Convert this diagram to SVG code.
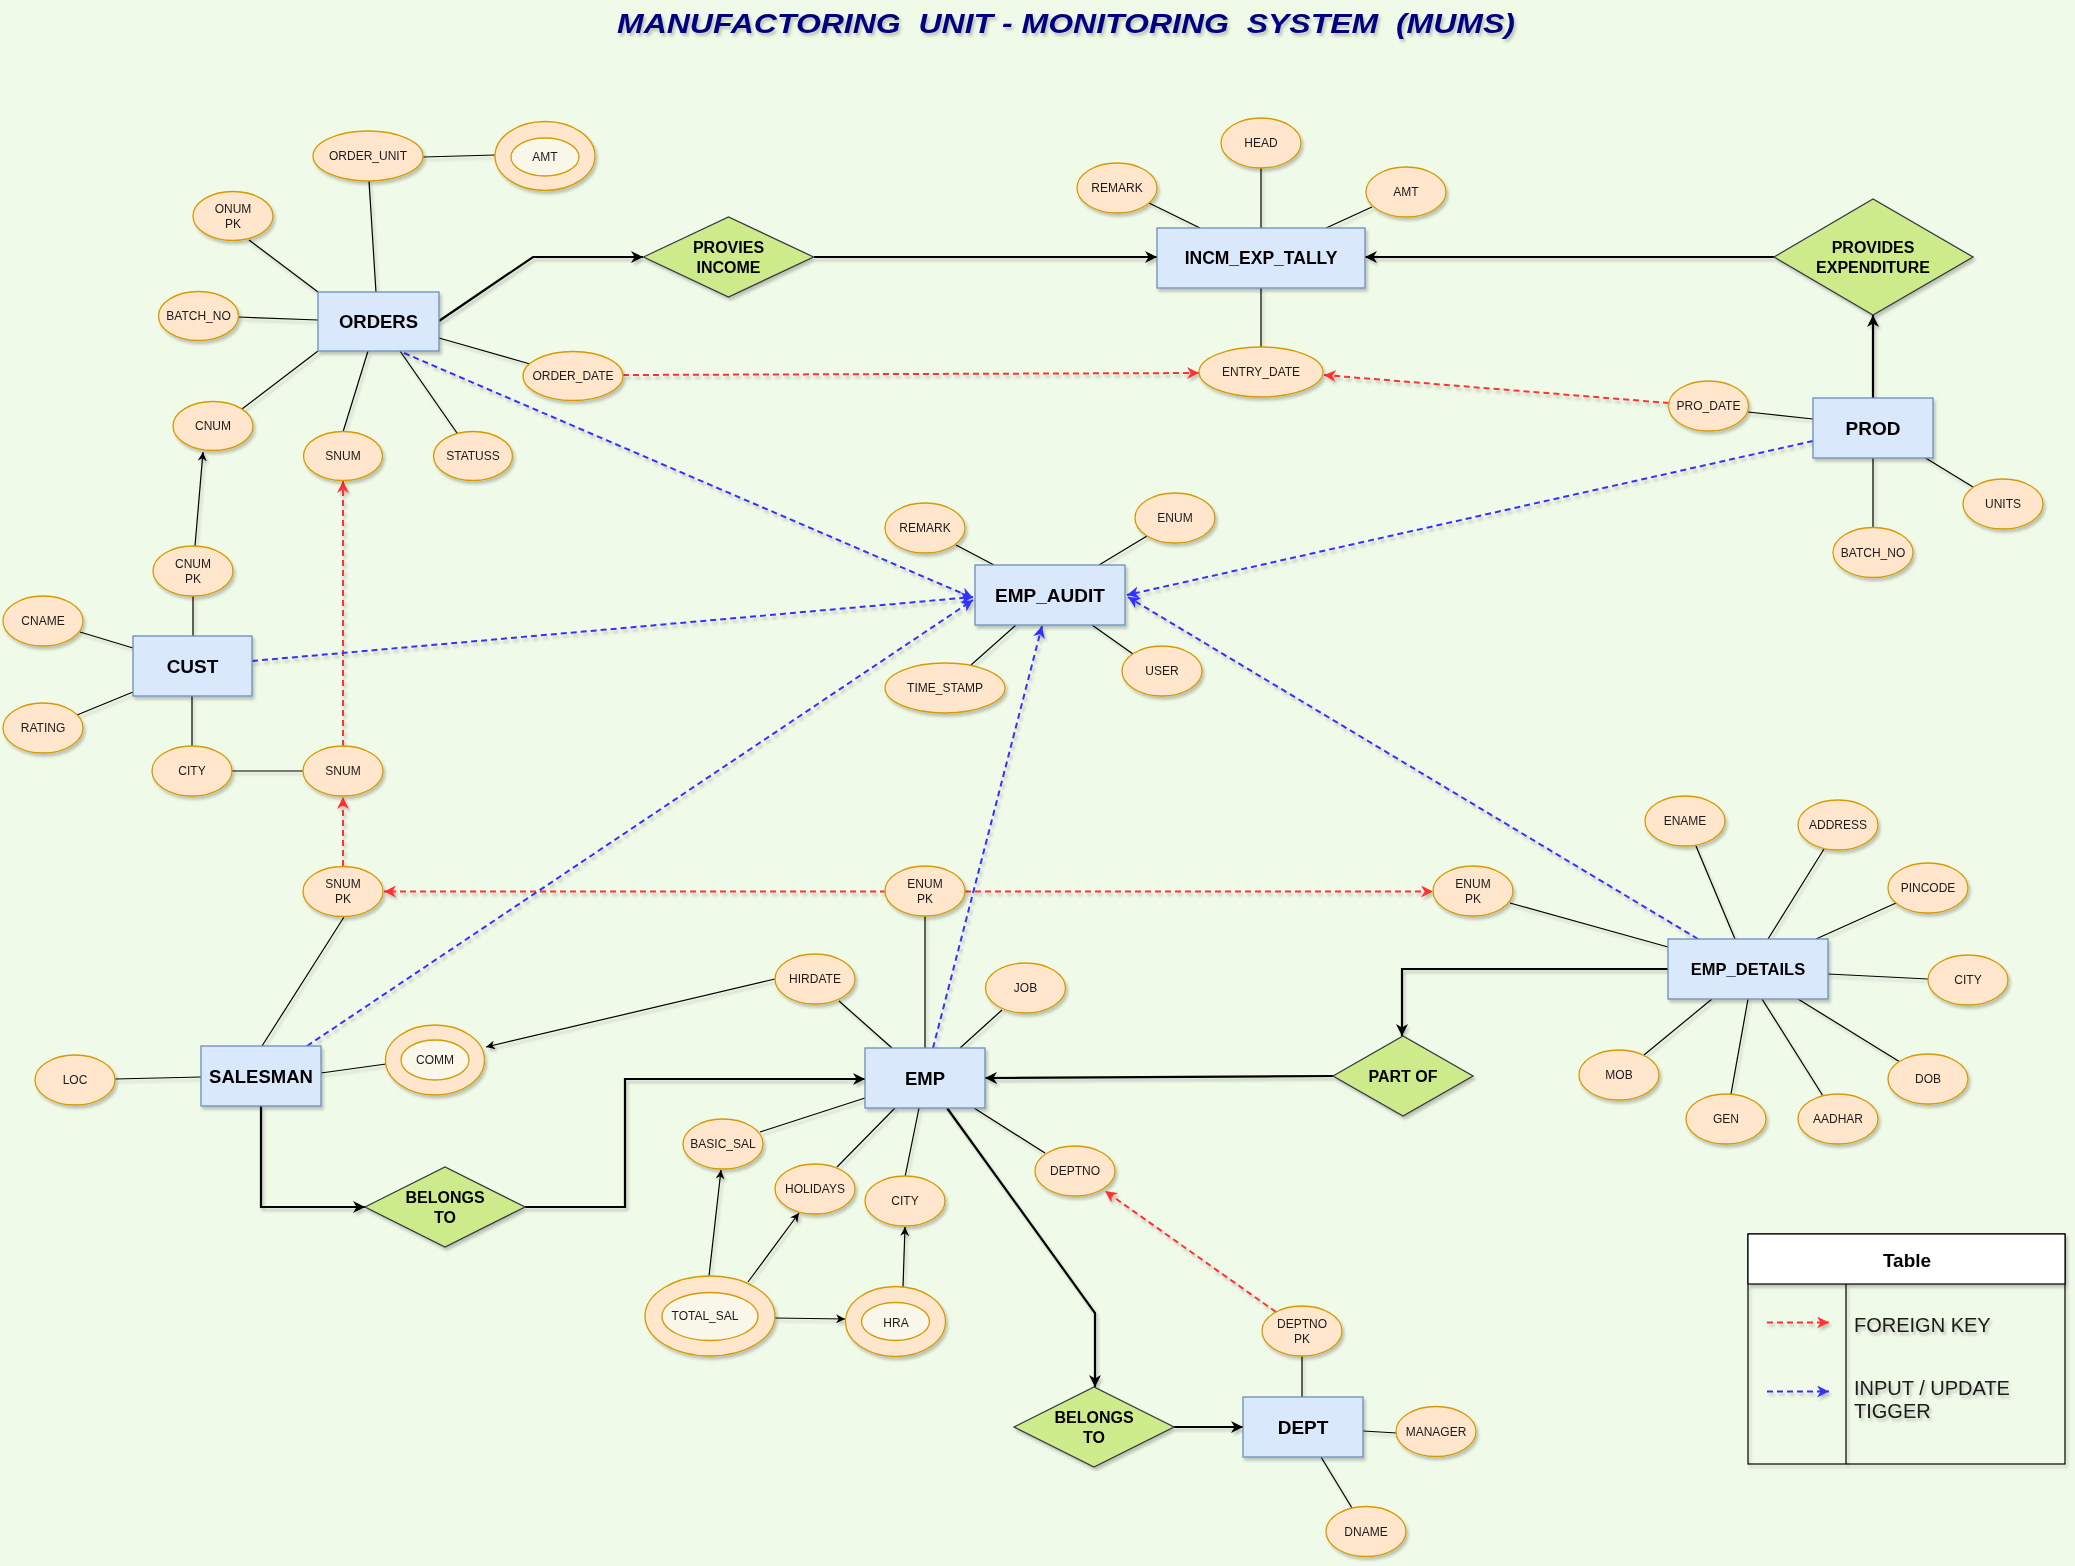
<svg xmlns="http://www.w3.org/2000/svg" width="2075" height="1566" viewBox="0 0 2075 1566">
<defs>
<style>
.bg{fill:#f0fae8}
.ent rect{fill:#dae8fc;stroke:#6c8ebf;stroke-width:1.3}
.ent text{font-family:"Liberation Sans",Arial,sans-serif;font-weight:bold;fill:#000;text-anchor:middle;dominant-baseline:central}
.att ellipse{fill:#ffe6cc;stroke:#d79b00;stroke-width:1.3}
.att ellipse.in{fill:#f9f6ea}
.att text{font-family:"Liberation Sans",Arial,sans-serif;font-size:12px;fill:#1a1a1a;text-anchor:middle;dominant-baseline:central}
.rel polygon{fill:#cdeb8b;stroke:#36393d;stroke-width:1.3}
.rel text{font-family:"Liberation Sans",Arial,sans-serif;font-size:16px;font-weight:bold;fill:#000;text-anchor:middle;dominant-baseline:central}
.a{stroke:#000;stroke-width:1.2;fill:none}
.t{stroke:#000;stroke-width:2.2;fill:none}
.fk{stroke:#ff3333;stroke-width:2;stroke-dasharray:6 4;fill:none}
.tr{stroke:#3333ff;stroke-width:2;stroke-dasharray:6 4;fill:none}
.lg{font-family:"Liberation Sans",Arial,sans-serif;font-size:20px;fill:#1a1a1a}
</style>
<filter id="sh" x="-10%" y="-10%" width="130%" height="140%">
<feDropShadow dx="2" dy="3" stdDeviation="1.5" flood-color="#000" flood-opacity="0.22"/>
</filter>
<marker id="mT" viewBox="0 0 10 10" refX="10" refY="5" markerWidth="12" markerHeight="12" markerUnits="userSpaceOnUse" orient="auto"><path d="M0,0 L10,5 L0,10 L3,5 Z" fill="#000"/></marker>
<marker id="mA" viewBox="0 0 10 10" refX="10" refY="5" markerWidth="9" markerHeight="9" markerUnits="userSpaceOnUse" orient="auto"><path d="M0,0 L10,5 L0,10 L3,5 Z" fill="#000"/></marker>
<marker id="mR" viewBox="0 0 10 10" refX="10" refY="5" markerWidth="12" markerHeight="12" markerUnits="userSpaceOnUse" orient="auto"><path d="M0,0 L10,5 L0,10 L3,5 Z" fill="#ff3333"/></marker>
<marker id="mB" viewBox="0 0 10 10" refX="10" refY="5" markerWidth="12" markerHeight="12" markerUnits="userSpaceOnUse" orient="auto"><path d="M0,0 L10,5 L0,10 L3,5 Z" fill="#3333ff"/></marker>
</defs>
<rect class="bg" x="0" y="0" width="2075" height="1566"/>
<text x="1066" y="33" text-anchor="middle" font-family="Liberation Sans,Arial,sans-serif" font-size="27" font-weight="bold" font-style="italic" fill="#000080" xml:space="preserve" textLength="898" lengthAdjust="spacingAndGlyphs" filter="url(#sh)">MANUFACTORING  UNIT - MONITORING  SYSTEM  (MUMS)</text>

<g id="connectors" filter="url(#sh)">
<!-- ORDERS attributes -->
<line class="a" x1="369" y1="181" x2="376" y2="292"/>
<line class="a" x1="423" y1="157" x2="495" y2="155"/>
<line class="a" x1="249" y1="240" x2="318" y2="292"/>
<line class="a" x1="238" y1="317" x2="318" y2="320"/>
<line class="a" x1="242" y1="409" x2="318" y2="351"/>
<line class="a" x1="343" y1="432" x2="368" y2="351"/>
<line class="a" x1="457" y1="433" x2="400" y2="351"/>
<line class="a" x1="530" y1="364" x2="439" y2="338"/>
<!-- INCM attributes -->
<line class="a" x1="1261" y1="168" x2="1261" y2="228"/>
<line class="a" x1="1149" y1="203" x2="1200" y2="228"/>
<line class="a" x1="1372" y1="207" x2="1326" y2="228"/>
<line class="a" x1="1261" y1="288" x2="1261" y2="347"/>
<!-- PROD attributes -->
<line class="a" x1="1748" y1="412" x2="1813" y2="419"/>
<line class="a" x1="1973" y1="487" x2="1924" y2="457"/>
<line class="a" x1="1873" y1="458" x2="1873" y2="528"/>
<!-- EMP_AUDIT attributes -->
<line class="a" x1="956" y1="545" x2="994" y2="565"/>
<line class="a" x1="1147" y1="536" x2="1099" y2="565"/>
<line class="a" x1="971" y1="665" x2="1016" y2="625"/>
<line class="a" x1="1133" y1="654" x2="1092" y2="625"/>
<!-- CUST attributes -->
<line class="a" x1="193" y1="596" x2="193" y2="636"/>
<line class="a" x1="80" y1="632" x2="133" y2="648"/>
<line class="a" x1="77" y1="715" x2="133" y2="692"/>
<line class="a" x1="192" y1="696" x2="192" y2="746"/>
<line class="a" x1="232" y1="771" x2="304" y2="771"/>
<line class="a" x1="195" y1="546" x2="203" y2="452" marker-end="url(#mA)"/>
<!-- SALESMAN attributes -->
<line class="a" x1="344" y1="917" x2="262" y2="1046"/>
<line class="a" x1="115" y1="1079" x2="201" y2="1077"/>
<line class="a" x1="321" y1="1073" x2="386" y2="1064"/>
<line class="a" x1="775" y1="979" x2="486" y2="1047" marker-end="url(#mA)"/>
<!-- EMP attributes -->
<line class="a" x1="925" y1="916" x2="925" y2="1048"/>
<line class="a" x1="839" y1="1001" x2="892" y2="1048"/>
<line class="a" x1="1002" y1="1010" x2="960" y2="1048"/>
<line class="a" x1="760" y1="1132" x2="865" y2="1098"/>
<line class="a" x1="837" y1="1167" x2="895" y2="1108"/>
<line class="a" x1="905" y1="1177" x2="919" y2="1108"/>
<line class="a" x1="1045" y1="1153" x2="974" y2="1108"/>
<line class="a" x1="709" y1="1276" x2="721" y2="1170" marker-end="url(#mA)"/>
<line class="a" x1="748" y1="1282" x2="799" y2="1213" marker-end="url(#mA)"/>
<line class="a" x1="775" y1="1318" x2="845" y2="1319" marker-end="url(#mA)"/>
<line class="a" x1="903" y1="1287" x2="905" y2="1227" marker-end="url(#mA)"/>
<!-- DEPT attributes -->
<line class="a" x1="1302" y1="1356" x2="1302" y2="1397"/>
<line class="a" x1="1363" y1="1431" x2="1397" y2="1433"/>
<line class="a" x1="1321" y1="1457" x2="1352" y2="1508"/>
<!-- EMP_DETAILS attributes -->
<line class="a" x1="1510" y1="903" x2="1668" y2="947"/>
<line class="a" x1="1696" y1="846" x2="1735" y2="939"/>
<line class="a" x1="1824" y1="849" x2="1768" y2="939"/>
<line class="a" x1="1896" y1="903" x2="1816" y2="939"/>
<line class="a" x1="1928" y1="979" x2="1828" y2="974"/>
<line class="a" x1="1900" y1="1062" x2="1798" y2="999"/>
<line class="a" x1="1823" y1="1096" x2="1762" y2="999"/>
<line class="a" x1="1731" y1="1094" x2="1748" y2="999"/>
<line class="a" x1="1644" y1="1055" x2="1712" y2="999"/>
<!-- relationships -->
<path class="t" d="M439,321 L533,257 L643,257" marker-end="url(#mT)"/>
<path class="t" d="M814,257 L1157,257" marker-end="url(#mT)"/>
<path class="t" d="M1774,257 L1365,257" marker-end="url(#mT)"/>
<path class="t" d="M1873,398 L1873,315" marker-end="url(#mT)"/>
<path class="t" d="M261,1106 L261,1207 L365,1207" marker-end="url(#mT)"/>
<path class="t" d="M525,1207 L625,1207 L625,1079 L865,1079" marker-end="url(#mT)"/>
<path class="t" d="M1333,1076 L985,1078" marker-end="url(#mT)"/>
<path class="t" d="M1668,969 L1402,969 L1402,1036" marker-end="url(#mT)"/>
<path class="t" d="M947,1108 L1095,1313 L1095,1387" marker-end="url(#mT)"/>
<path class="t" d="M1174,1427 L1243,1427" marker-end="url(#mT)"/>
<!-- foreign keys -->
<line class="fk" x1="623" y1="375" x2="1199" y2="373" marker-end="url(#mR)"/>
<line class="fk" x1="1669" y1="403" x2="1324" y2="375" marker-end="url(#mR)"/>
<line class="fk" x1="343" y1="746" x2="343" y2="481" marker-end="url(#mR)"/>
<line class="fk" x1="343" y1="866" x2="343" y2="797" marker-end="url(#mR)"/>
<line class="fk" x1="886" y1="891.5" x2="384" y2="891.5" marker-end="url(#mR)"/>
<line class="fk" x1="965" y1="891.5" x2="1433" y2="891.5" marker-end="url(#mR)"/>
<line class="fk" x1="1276" y1="1312" x2="1105" y2="1191" marker-end="url(#mR)"/>
<!-- triggers -->
<line class="tr" x1="404" y1="353" x2="973" y2="598" marker-end="url(#mB)"/>
<line class="tr" x1="252" y1="661" x2="973" y2="597" marker-end="url(#mB)"/>
<line class="tr" x1="307" y1="1046" x2="973" y2="600" marker-end="url(#mB)"/>
<line class="tr" x1="933" y1="1048" x2="1042" y2="626" marker-end="url(#mB)"/>
<line class="tr" x1="1813" y1="441" x2="1127" y2="595" marker-end="url(#mB)"/>
<line class="tr" x1="1698" y1="939" x2="1128" y2="597" marker-end="url(#mB)"/>
</g>

<g filter="url(#sh)">
<!-- entities -->
<g id="orders" class="ent"><rect x="318" y="292" width="121" height="59"/><text x="378.5" y="321.5" font-size="18.5">ORDERS</text></g>
<g id="incm_exp_tally" class="ent"><rect x="1157" y="228" width="208" height="60"/><text x="1261" y="258" font-size="17.5">INCM_EXP_TALLY</text></g>
<g id="prod" class="ent"><rect x="1813" y="398" width="120" height="60"/><text x="1873" y="428" font-size="19">PROD</text></g>
<g id="emp_audit" class="ent"><rect x="975" y="565" width="150" height="60"/><text x="1050" y="595" font-size="19">EMP_AUDIT</text></g>
<g id="cust" class="ent"><rect x="133" y="636" width="119" height="60"/><text x="192.5" y="666" font-size="19">CUST</text></g>
<g id="salesman" class="ent"><rect x="201" y="1046" width="120" height="60"/><text x="261" y="1076" font-size="18.5">SALESMAN</text></g>
<g id="emp" class="ent"><rect x="865" y="1048" width="120" height="60"/><text x="925" y="1078" font-size="18.5">EMP</text></g>
<g id="emp_details" class="ent"><rect x="1668" y="939" width="160" height="60"/><text x="1748" y="969" font-size="16.5">EMP_DETAILS</text></g>
<g id="dept" class="ent"><rect x="1243" y="1397" width="120" height="60"/><text x="1303" y="1427" font-size="19">DEPT</text></g>

<!-- relationships -->
<g id="provies_income" class="rel"><polygon points="643.5,257 728.5,217 813.5,257 728.5,297"/><text x="728.5" y="247">PROVIES</text><text x="728.5" y="267">INCOME</text></g>
<g id="provides_expenditure" class="rel"><polygon points="1774,257 1873,199 1973,257 1873,315"/><text x="1873" y="247">PROVIDES</text><text x="1873" y="267">EXPENDITURE</text></g>
<g id="part_of" class="rel"><polygon points="1333,1076 1403,1036 1473,1076 1403,1116"/><text x="1403" y="1076">PART OF</text></g>
<g id="belongs_to_1" class="rel"><polygon points="365,1207 445,1167 525,1207 445,1247"/><text x="445" y="1197">BELONGS</text><text x="445" y="1217">TO</text></g>
<g id="belongs_to_2" class="rel"><polygon points="1014,1427 1094,1387 1174,1427 1094,1467"/><text x="1094" y="1417">BELONGS</text><text x="1094" y="1437">TO</text></g>

<!-- ORDERS attributes -->
<g id="order_unit" class="att"><ellipse cx="368" cy="156" rx="55" ry="25"/><text x="368" y="156">ORDER_UNIT</text></g>
<g id="amt_orders" class="att"><ellipse cx="545" cy="156" rx="50" ry="34.5"/><ellipse class="in" cx="545" cy="157" rx="34" ry="19"/><text x="545" y="157">AMT</text></g>
<g id="onum_pk" class="att"><ellipse cx="233" cy="216" rx="40" ry="24.5"/><text x="233" y="209">ONUM</text><text x="233" y="224">PK</text></g>
<g id="batch_no_orders" class="att"><ellipse cx="198.5" cy="316" rx="40" ry="24.5"/><text x="198.5" y="316">BATCH_NO</text></g>
<g id="cnum" class="att"><ellipse cx="213" cy="426" rx="40" ry="24.5"/><text x="213" y="426">CNUM</text></g>
<g id="snum_orders" class="att"><ellipse cx="343" cy="456" rx="39.5" ry="24.5"/><text x="343" y="456">SNUM</text></g>
<g id="statuss" class="att"><ellipse cx="473" cy="456" rx="39.5" ry="24.5"/><text x="473" y="456">STATUSS</text></g>
<g id="order_date" class="att"><ellipse cx="573" cy="376" rx="50" ry="24.5"/><text x="573" y="376">ORDER_DATE</text></g>

<!-- INCM attributes -->
<g id="head" class="att"><ellipse cx="1261" cy="143" rx="40" ry="25"/><text x="1261" y="143">HEAD</text></g>
<g id="remark_incm" class="att"><ellipse cx="1117" cy="188" rx="40" ry="25"/><text x="1117" y="188">REMARK</text></g>
<g id="amt_incm" class="att"><ellipse cx="1406" cy="192" rx="40" ry="25"/><text x="1406" y="192">AMT</text></g>
<g id="entry_date" class="att"><ellipse cx="1261" cy="372" rx="62" ry="25"/><text x="1261" y="372">ENTRY_DATE</text></g>

<!-- PROD attributes -->
<g id="pro_date" class="att"><ellipse cx="1708.5" cy="406" rx="40" ry="25"/><text x="1708.5" y="406">PRO_DATE</text></g>
<g id="units" class="att"><ellipse cx="2003" cy="504" rx="40" ry="25"/><text x="2003" y="504">UNITS</text></g>
<g id="batch_no_prod" class="att"><ellipse cx="1873" cy="552.5" rx="40" ry="25"/><text x="1873" y="552.5">BATCH_NO</text></g>

<!-- EMP_AUDIT attributes -->
<g id="remark_audit" class="att"><ellipse cx="925" cy="528" rx="40" ry="25"/><text x="925" y="528">REMARK</text></g>
<g id="enum_audit" class="att"><ellipse cx="1175" cy="518" rx="40" ry="25"/><text x="1175" y="518">ENUM</text></g>
<g id="time_stamp" class="att"><ellipse cx="945" cy="688" rx="60" ry="25"/><text x="945" y="688">TIME_STAMP</text></g>
<g id="user" class="att"><ellipse cx="1162" cy="671" rx="40" ry="25"/><text x="1162" y="671">USER</text></g>

<!-- CUST attributes -->
<g id="cnum_pk" class="att"><ellipse cx="193" cy="571" rx="40" ry="25"/><text x="193" y="564">CNUM</text><text x="193" y="579">PK</text></g>
<g id="cname" class="att"><ellipse cx="43" cy="621" rx="40" ry="25"/><text x="43" y="621">CNAME</text></g>
<g id="rating" class="att"><ellipse cx="43" cy="728" rx="40" ry="25"/><text x="43" y="728">RATING</text></g>
<g id="city_cust" class="att"><ellipse cx="192" cy="771" rx="40" ry="25"/><text x="192" y="771">CITY</text></g>
<g id="snum_cust" class="att"><ellipse cx="343" cy="771" rx="40" ry="25"/><text x="343" y="771">SNUM</text></g>

<!-- SALESMAN attributes -->
<g id="snum_pk" class="att"><ellipse cx="343" cy="891.5" rx="40" ry="25"/><text x="343" y="884">SNUM</text><text x="343" y="899">PK</text></g>
<g id="loc" class="att"><ellipse cx="75" cy="1080" rx="40" ry="25"/><text x="75" y="1080">LOC</text></g>
<g id="comm" class="att"><ellipse cx="435" cy="1060" rx="49.5" ry="35"/><ellipse class="in" cx="435" cy="1060" rx="34" ry="20"/><text x="435" y="1060">COMM</text></g>

<!-- EMP attributes -->
<g id="enum_pk_emp" class="att"><ellipse cx="925" cy="891" rx="40" ry="25"/><text x="925" y="884">ENUM</text><text x="925" y="899">PK</text></g>
<g id="hirdate" class="att"><ellipse cx="815" cy="979" rx="40" ry="25"/><text x="815" y="979">HIRDATE</text></g>
<g id="job" class="att"><ellipse cx="1025.5" cy="988" rx="40" ry="25"/><text x="1025.5" y="988">JOB</text></g>
<g id="basic_sal" class="att"><ellipse cx="723" cy="1144" rx="40" ry="25"/><text x="723" y="1144">BASIC_SAL</text></g>
<g id="holidays" class="att"><ellipse cx="815" cy="1189" rx="40" ry="25"/><text x="815" y="1189">HOLIDAYS</text></g>
<g id="city_emp" class="att"><ellipse cx="905" cy="1201" rx="40" ry="25"/><text x="905" y="1201">CITY</text></g>
<g id="deptno" class="att"><ellipse cx="1075" cy="1171" rx="40" ry="25"/><text x="1075" y="1171">DEPTNO</text></g>
<g id="total_sal" class="att"><ellipse cx="710" cy="1316" rx="65" ry="40"/><ellipse class="in" cx="710" cy="1316.5" rx="48" ry="24"/><text x="705" y="1316">TOTAL_SAL</text></g>
<g id="hra" class="att"><ellipse cx="895.5" cy="1321.5" rx="50" ry="35"/><ellipse class="in" cx="895.5" cy="1321.5" rx="34" ry="19"/><text x="896" y="1322.5">HRA</text></g>

<!-- DEPT attributes -->
<g id="deptno_pk" class="att"><ellipse cx="1302" cy="1331" rx="40" ry="25"/><text x="1302" y="1324">DEPTNO</text><text x="1302" y="1339">PK</text></g>
<g id="manager" class="att"><ellipse cx="1436" cy="1431.5" rx="40" ry="25"/><text x="1436" y="1431.5">MANAGER</text></g>
<g id="dname" class="att"><ellipse cx="1366" cy="1531.5" rx="40" ry="25"/><text x="1366" y="1531.5">DNAME</text></g>

<!-- EMP_DETAILS attributes -->
<g id="enum_pk_details" class="att"><ellipse cx="1473" cy="891" rx="40" ry="25"/><text x="1473" y="884">ENUM</text><text x="1473" y="899">PK</text></g>
<g id="ename" class="att"><ellipse cx="1685" cy="821" rx="40" ry="25"/><text x="1685" y="821">ENAME</text></g>
<g id="address" class="att"><ellipse cx="1838" cy="825" rx="40" ry="25"/><text x="1838" y="825">ADDRESS</text></g>
<g id="pincode" class="att"><ellipse cx="1928" cy="888" rx="40" ry="25"/><text x="1928" y="888">PINCODE</text></g>
<g id="city_details" class="att"><ellipse cx="1968" cy="980" rx="40" ry="25"/><text x="1968" y="980">CITY</text></g>
<g id="dob" class="att"><ellipse cx="1928" cy="1079" rx="40" ry="25"/><text x="1928" y="1079">DOB</text></g>
<g id="aadhar" class="att"><ellipse cx="1838" cy="1119" rx="40" ry="25"/><text x="1838" y="1119">AADHAR</text></g>
<g id="gen" class="att"><ellipse cx="1726" cy="1119" rx="40" ry="25"/><text x="1726" y="1119">GEN</text></g>
<g id="mob" class="att"><ellipse cx="1619" cy="1075" rx="40" ry="25"/><text x="1619" y="1075">MOB</text></g>
</g>

<!-- legend -->
<g id="legend" filter="url(#sh)">
<rect x="1748" y="1234" width="317" height="230" fill="none" stroke="#000" stroke-width="1.2"/>
<rect x="1748" y="1234" width="317" height="50" fill="#ffffff" stroke="#000" stroke-width="1.2"/>
<line x1="1846" y1="1284" x2="1846" y2="1464" stroke="#000" stroke-width="1.2"/>
<text x="1907" y="1267" text-anchor="middle" font-family="Liberation Sans,Arial,sans-serif" font-size="19" font-weight="bold" fill="#000">Table</text>
<line class="fk" x1="1767" y1="1322.5" x2="1829" y2="1322.5" marker-end="url(#mR)"/>
<line class="tr" x1="1767" y1="1391.5" x2="1829" y2="1391.5" marker-end="url(#mB)"/>
<text class="lg" x="1854" y="1331.5">FOREIGN KEY</text>
<text class="lg" x="1854" y="1395">INPUT / UPDATE</text>
<text class="lg" x="1854" y="1418">TIGGER</text>
</g>
</svg>
